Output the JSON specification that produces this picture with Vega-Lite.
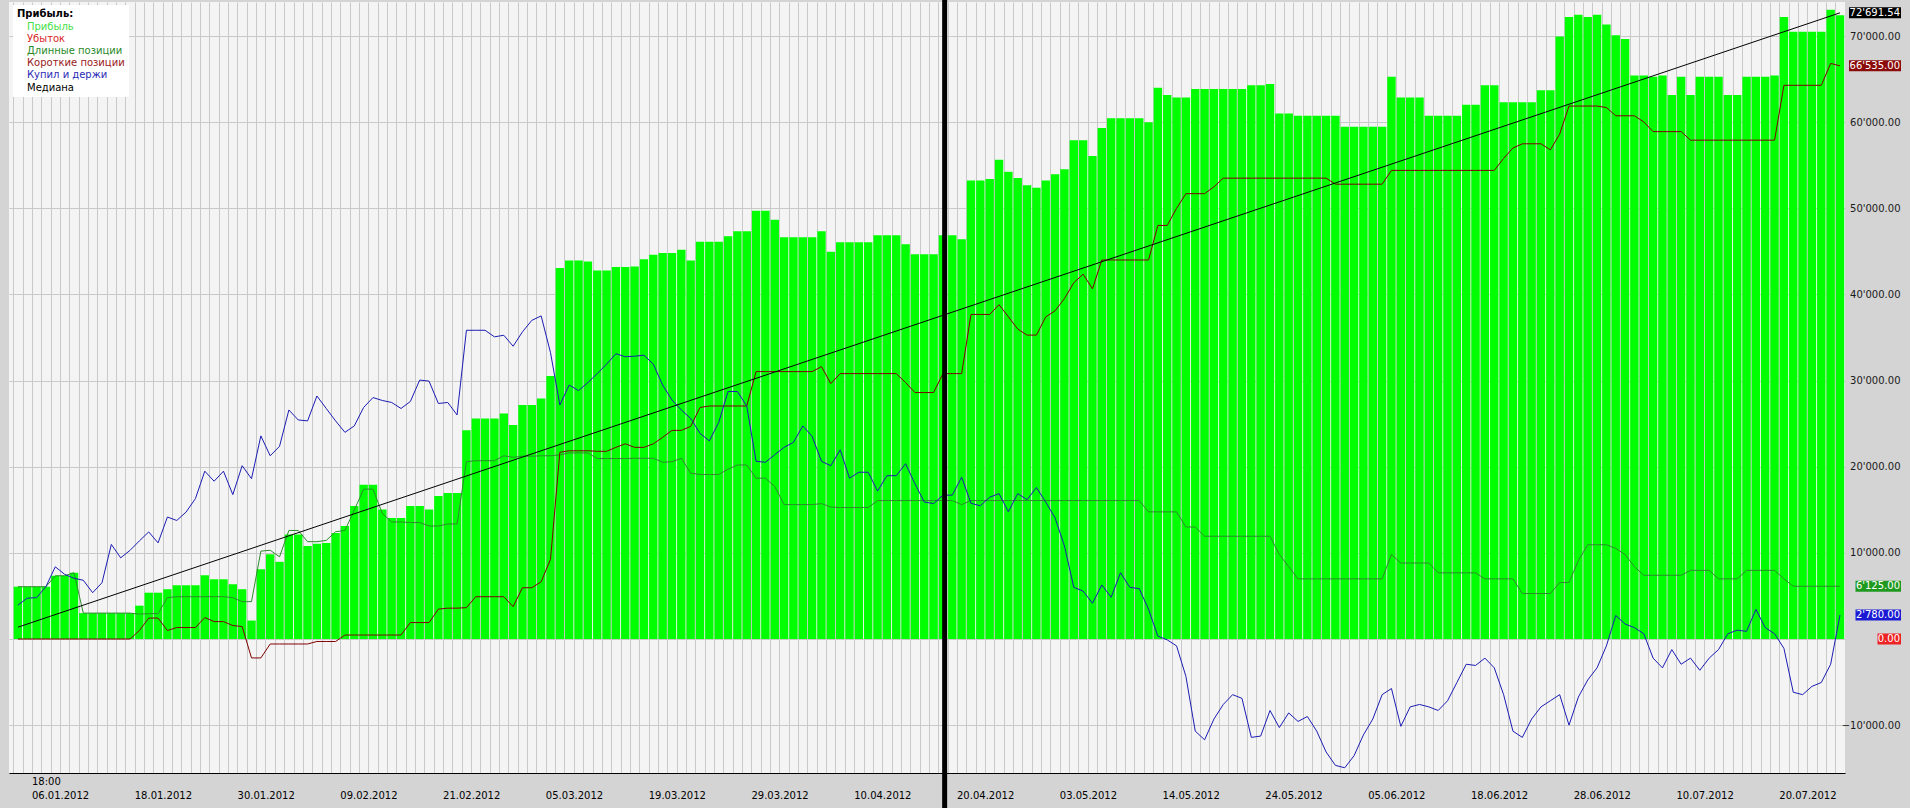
{
  "$schema": "https://vega.github.io/schema/vega-lite/v6.json",
  "width": 1836,
  "height": 771,
  "autosize": {"type": "none"},
  "padding": {"left": 9, "top": 2, "right": 65, "bottom": 35},
  "background": "#d4d4d4",
  "config": {
    "view": {"fill": "#f4f4f4", "stroke": null},
    "font": "DejaVu Sans",
    "locale": {"number": {"decimal": ".", "thousands": "'", "grouping": [3], "currency": ["", ""]}}
  },
  "datasets": {
    "bars": [
      {"i":0,"p":6070,"l":6070,"s":0,"b":3930},{"i":1,"p":6070,"l":6070,"s":0,"b":4740},{"i":2,"p":6070,"l":6070,"s":0,"b":4800},{"i":3,"p":6070,"l":6070,"s":0,"b":6070},
      {"i":4,"p":7340,"l":7340,"s":0,"b":8380},{"i":5,"p":7340,"l":7340,"s":0,"b":7510},{"i":6,"p":7690,"l":7690,"s":0,"b":7050},{"i":7,"p":3006,"l":3006,"s":0,"b":6820},
      {"i":8,"p":3006,"l":3006,"s":0,"b":5375},{"i":9,"p":3006,"l":3006,"s":0,"b":6530},{"i":10,"p":3006,"l":3006,"s":0,"b":10980},{"i":11,"p":3006,"l":3006,"s":0,"b":9420},
      {"i":12,"p":3006,"l":3006,"s":0,"b":10290},{"i":13,"p":3870,"l":2890,"s":980,"b":11390},{"i":14,"p":5375,"l":2945,"s":2430,"b":12430},{"i":15,"p":5375,"l":2945,"s":2430,"b":11160},
      {"i":16,"p":5780,"l":4800,"s":980,"b":14160},{"i":17,"p":6240,"l":4910,"s":1330,"b":13760},{"i":18,"p":6240,"l":4910,"s":1330,"b":14740},{"i":19,"p":6240,"l":4910,"s":1330,"b":16300},
      {"i":20,"p":7400,"l":4910,"s":2490,"b":19480},{"i":21,"p":6936,"l":4916,"s":2020,"b":18320},{"i":22,"p":6936,"l":4916,"s":2020,"b":19480},{"i":23,"p":6358,"l":4800,"s":1560,"b":16760},
      {"i":24,"p":5780,"l":4330,"s":1450,"b":20120},{"i":25,"p":2140,"l":4340,"s":-2200,"b":18610},{"i":26,"p":8090,"l":10200,"s":-2200,"b":23580},{"i":27,"p":9830,"l":10300,"s":-580,"b":21270},
      {"i":28,"p":8960,"l":9540,"s":-580,"b":22370},{"i":29,"p":12140,"l":12600,"s":-580,"b":26590},{"i":30,"p":12140,"l":12600,"s":-580,"b":25430},{"i":31,"p":10810,"l":11300,"s":-580,"b":25320},
      {"i":32,"p":11070,"l":11300,"s":-290,"b":28210},{"i":33,"p":11155,"l":11445,"s":-290,"b":26760},{"i":34,"p":12310,"l":12450,"s":-290,"b":25320},{"i":35,"p":13120,"l":12600,"s":460,"b":23990},
      {"i":36,"p":15430,"l":14970,"s":460,"b":24740},{"i":37,"p":17920,"l":17400,"s":460,"b":26880},{"i":38,"p":17920,"l":17400,"s":460,"b":28030},{"i":39,"p":15030,"l":14570,"s":460,"b":27690},
      {"i":40,"p":14045,"l":13585,"s":460,"b":27460},{"i":41,"p":14045,"l":13585,"s":460,"b":26760},{"i":42,"p":15430,"l":13520,"s":1910,"b":27570},{"i":43,"p":15430,"l":13520,"s":1910,"b":30060},
      {"i":44,"p":15030,"l":13120,"s":1910,"b":29940},{"i":45,"p":16590,"l":13120,"s":3470,"b":27340},{"i":46,"p":16935,"l":13355,"s":3580,"b":27460},{"i":47,"p":16935,"l":13355,"s":3580,"b":26010},
      {"i":48,"p":24220,"l":20580,"s":3640,"b":35840},{"i":49,"p":25610,"l":20700,"s":4910,"b":35840},{"i":50,"p":25610,"l":20700,"s":4910,"b":35840},{"i":51,"p":25610,"l":20700,"s":4910,"b":35080},
      {"i":52,"p":26180,"l":21270,"s":4910,"b":35260},{"i":53,"p":24850,"l":21090,"s":3760,"b":33990},{"i":54,"p":27170,"l":21220,"s":5950,"b":35660},{"i":55,"p":27170,"l":21220,"s":5950,"b":36990},
      {"i":56,"p":27920,"l":21270,"s":6650,"b":37510},{"i":57,"p":30520,"l":21270,"s":9250,"b":33240},{"i":58,"p":43060,"l":21380,"s":21680,"b":27170},{"i":59,"p":43930,"l":21600,"s":21850,"b":29480},
      {"i":60,"p":43930,"l":21600,"s":21850,"b":28840},{"i":61,"p":43810,"l":21600,"s":21850,"b":29770},{"i":62,"p":42770,"l":20950,"s":21790,"b":30810},{"i":63,"p":42770,"l":20950,"s":21790,"b":31910},
      {"i":64,"p":43180,"l":20950,"s":22250,"b":33120},{"i":65,"p":43180,"l":20950,"s":22660,"b":32770},{"i":66,"p":43230,"l":20980,"s":22250,"b":32830},{"i":67,"p":44100,"l":20980,"s":22250,"b":32950},
      {"i":68,"p":44620,"l":20980,"s":22660,"b":31910},{"i":69,"p":44800,"l":20520,"s":23410,"b":29480},{"i":70,"p":44800,"l":20580,"s":24220,"b":27740},{"i":71,"p":45200,"l":20980,"s":24220,"b":26590},
      {"i":72,"p":43930,"l":19250,"s":24680,"b":25610},{"i":73,"p":46120,"l":19100,"s":26880,"b":23870},{"i":74,"p":46120,"l":19100,"s":27050,"b":23000},{"i":75,"p":46120,"l":19100,"s":27050,"b":25140},
      {"i":76,"p":46760,"l":19710,"s":27050,"b":28730},{"i":77,"p":47340,"l":20200,"s":27050,"b":28730},{"i":78,"p":47340,"l":20200,"s":27050,"b":27050},{"i":79,"p":49710,"l":18670,"s":31040,"b":20630},
      {"i":80,"p":49710,"l":18670,"s":31040,"b":20520},{"i":81,"p":48670,"l":17700,"s":31040,"b":21390},{"i":82,"p":46640,"l":15600,"s":31040,"b":22250},{"i":83,"p":46640,"l":15600,"s":31040,"b":22830},
      {"i":84,"p":46640,"l":15600,"s":31040,"b":24740},{"i":85,"p":46640,"l":15600,"s":31040,"b":23520},{"i":86,"p":47340,"l":15720,"s":31620,"b":20630},{"i":87,"p":44970,"l":15320,"s":29650,"b":20110},
      {"i":88,"p":46070,"l":15260,"s":30810,"b":21960},{"i":89,"p":46070,"l":15260,"s":30810,"b":18670},{"i":90,"p":46070,"l":15260,"s":30810,"b":19360},{"i":91,"p":46070,"l":15260,"s":30810,"b":19360},
      {"i":92,"p":46880,"l":16070,"s":30810,"b":17170},{"i":93,"p":46880,"l":16070,"s":30810,"b":18960},{"i":94,"p":46880,"l":16070,"s":30810,"b":18960},{"i":95,"p":45840,"l":16070,"s":29770,"b":20350},
      {"i":96,"p":44680,"l":16070,"s":28610,"b":18030},{"i":97,"p":44680,"l":16070,"s":28610,"b":15900},{"i":98,"p":44680,"l":16070,"s":28610,"b":15720},{"i":99,"p":46880,"l":16070,"s":30810,"b":16700},
      {"i":100,"p":46880,"l":16070,"s":30810,"b":16700},{"i":101,"p":46410,"l":15600,"s":30810,"b":18790},{"i":102,"p":53240,"l":16070,"s":37680,"b":15750},{"i":103,"p":53240,"l":16070,"s":37680,"b":15470},
      {"i":104,"p":53400,"l":16070,"s":37680,"b":16460},{"i":105,"p":55650,"l":16070,"s":38810,"b":16880},{"i":106,"p":54230,"l":16070,"s":37400,"b":14770},{"i":107,"p":53520,"l":16070,"s":35980,"b":16880},
      {"i":108,"p":52680,"l":16070,"s":35280,"b":16170},{"i":109,"p":52400,"l":16070,"s":35280,"b":17590},{"i":110,"p":53240,"l":16070,"s":37400,"b":15890},{"i":111,"p":53950,"l":16070,"s":38100,"b":14050},
      {"i":112,"p":54520,"l":16070,"s":39520,"b":10800},{"i":113,"p":57910,"l":16070,"s":41360,"b":6000},{"i":114,"p":57910,"l":16070,"s":42350,"b":5560},{"i":115,"p":56070,"l":16070,"s":40650,"b":4150},
      {"i":116,"p":59330,"l":16070,"s":44000,"b":6270},{"i":117,"p":60460,"l":16070,"s":44000,"b":4850},{"i":118,"p":60460,"l":16070,"s":44000,"b":7690},{"i":119,"p":60460,"l":16070,"s":44000,"b":5990},
      {"i":120,"p":60460,"l":16070,"s":44000,"b":5850},{"i":121,"p":60000,"l":14760,"s":44000,"b":3440},{"i":122,"p":64000,"l":14760,"s":48010,"b":330},{"i":123,"p":63150,"l":14760,"s":48010,"b":-100},
      {"i":124,"p":62860,"l":14760,"s":50000,"b":-800},{"i":125,"p":62860,"l":13000,"s":51700,"b":-4340},{"i":126,"p":63850,"l":13000,"s":51700,"b":-10700},{"i":127,"p":63850,"l":11930,"s":51700,"b":-11700},
      {"i":128,"p":63850,"l":11930,"s":52500,"b":-9290},{"i":129,"p":63850,"l":11930,"s":53500,"b":-7600},{"i":130,"p":63850,"l":11930,"s":53500,"b":-6460},{"i":131,"p":63850,"l":11930,"s":53500,"b":-6890},
      {"i":132,"p":64280,"l":11930,"s":53500,"b":-11420},{"i":133,"p":64280,"l":11930,"s":53500,"b":-11270},{"i":134,"p":64420,"l":11930,"s":53500,"b":-8300},{"i":135,"p":61020,"l":9810,"s":53500,"b":-10280},
      {"i":136,"p":61020,"l":8400,"s":53500,"b":-8580},{"i":137,"p":60740,"l":6980,"s":53500,"b":-9570},{"i":138,"p":60740,"l":6980,"s":53500,"b":-9000},{"i":139,"p":60740,"l":6980,"s":53500,"b":-10700},
      {"i":140,"p":60740,"l":6980,"s":53500,"b":-13110},{"i":141,"p":60740,"l":6980,"s":52800,"b":-14670},{"i":142,"p":59470,"l":6980,"s":52800,"b":-14950},{"i":143,"p":59470,"l":6980,"s":52800,"b":-13540},
      {"i":144,"p":59470,"l":6980,"s":52800,"b":-11130},{"i":145,"p":59470,"l":6980,"s":52800,"b":-9290},{"i":146,"p":59470,"l":6980,"s":52800,"b":-6460},{"i":147,"p":65270,"l":9810,"s":54400,"b":-5750},
      {"i":148,"p":62860,"l":8820,"s":54400,"b":-10140},{"i":149,"p":62860,"l":8820,"s":54400,"b":-7880},{"i":150,"p":62860,"l":8820,"s":54400,"b":-7600},{"i":151,"p":60740,"l":8820,"s":54400,"b":-7880},
      {"i":152,"p":60740,"l":7680,"s":54400,"b":-8300},{"i":153,"p":60740,"l":7680,"s":54400,"b":-7170},{"i":154,"p":60740,"l":7680,"s":54400,"b":-5050},{"i":155,"p":62010,"l":7680,"s":54400,"b":-2930},
      {"i":156,"p":62010,"l":7680,"s":54400,"b":-3070},{"i":157,"p":64280,"l":6980,"s":54400,"b":-2220},{"i":158,"p":64280,"l":6980,"s":54400,"b":-3350},{"i":159,"p":62300,"l":6980,"s":55790,"b":-6460},
      {"i":160,"p":62300,"l":6980,"s":57000,"b":-10700},{"i":161,"p":62300,"l":5280,"s":57490,"b":-11420},{"i":162,"p":62300,"l":5280,"s":57490,"b":-9290},{"i":163,"p":63710,"l":5280,"s":57490,"b":-7880},
      {"i":164,"p":63710,"l":5280,"s":56780,"b":-7170},{"i":165,"p":69940,"l":6560,"s":58620,"b":-6460},{"i":166,"p":72200,"l":6560,"s":61870,"b":-10000},{"i":167,"p":72480,"l":9100,"s":61870,"b":-6740},
      {"i":168,"p":72200,"l":10940,"s":61870,"b":-4760},{"i":169,"p":72480,"l":10940,"s":61870,"b":-3350},{"i":170,"p":71350,"l":10940,"s":61700,"b":-800},{"i":171,"p":70080,"l":10520,"s":60740,"b":2730},
      {"i":172,"p":69650,"l":9810,"s":60740,"b":1740},{"i":173,"p":65410,"l":8400,"s":60740,"b":1320},{"i":174,"p":65410,"l":7400,"s":60030,"b":610},{"i":175,"p":65270,"l":7400,"s":58900,"b":-2220},
      {"i":176,"p":65410,"l":7400,"s":58900,"b":-3350},{"i":177,"p":63150,"l":7400,"s":58900,"b":-1230},{"i":178,"p":65270,"l":7400,"s":58900,"b":-2930},{"i":179,"p":63150,"l":7970,"s":57910,"b":-2220},
      {"i":180,"p":65270,"l":7970,"s":57910,"b":-3630},{"i":181,"p":65270,"l":7970,"s":57910,"b":-2220},{"i":182,"p":65270,"l":6980,"s":57910,"b":-1230},{"i":183,"p":63150,"l":6980,"s":57910,"b":610},
      {"i":184,"p":63150,"l":6980,"s":57910,"b":1030},{"i":185,"p":65270,"l":7970,"s":57910,"b":890},{"i":186,"p":65270,"l":7970,"s":57910,"b":3440},{"i":187,"p":65270,"l":7970,"s":57910,"b":1320},
      {"i":188,"p":65410,"l":7970,"s":57910,"b":610},{"i":189,"p":72200,"l":6980,"s":64280,"b":-1090},{"i":190,"p":70500,"l":6125,"s":64280,"b":-6180},{"i":191,"p":70500,"l":6125,"s":64280,"b":-6460},
      {"i":192,"p":70500,"l":6125,"s":64280,"b":-5500},{"i":193,"p":70500,"l":6125,"s":64280,"b":-5050},{"i":194,"p":73050,"l":6125,"s":66820,"b":-2930},{"i":195,"p":72400,"l":6125,"s":66535,"b":2780}
    ],
    "median": [{"i": 0, "v": 1370}, {"i": 195, "v": 72691.54}],
    "separator": [{"i": 99}],
    "tags": [
      {"i": 195, "series": "Медиана", "v": 72691.54},
      {"i": 195, "series": "Короткие позиции", "v": 66535},
      {"i": 195, "series": "Длинные позиции", "v": 6125},
      {"i": 195, "series": "Купил и держи", "v": 2780},
      {"i": 195, "series": "Убыток", "v": 0}
    ]
  },
  "layer": [
    {
      "data": {"name": "bars"},
      "mark": {"type": "bar"},
      "encoding": {
        "x": {
          "field": "i", "type": "ordinal",
          "scale": {"type": "band", "paddingInner": 0.1, "paddingOuter": 0.294, "align": 0.855},
          "axis": {
            "orient": "bottom", "bandPosition": 0, "grid": true, "gridColor": "#c9c9c9", "gridWidth": 1,
            "ticks": false, "tickSize": 0, "domain": true, "domainColor": "#000000", "domainWidth": 1,
            "labelAngle": 0, "labelAlign": "left", "labelBaseline": "top", "labelPadding": 3,
            "labelOffset": 4.7, "labelOverlap": false, "labelBound": false, "labelFlush": false,
            "labelFont": "DejaVu Sans", "labelFontSize": 10, "labelColor": "#000000", "labelLineHeight": 14,
            "title": null,
            "labelExpr": "datum.value % 11 == 1 ? [datum.value == 1 ? '18:00' : '', ['06.01.2012', '18.01.2012', '30.01.2012', '09.02.2012', '21.02.2012', '05.03.2012', '19.03.2012', '29.03.2012', '10.04.2012', '20.04.2012', '03.05.2012', '14.05.2012', '24.05.2012', '05.06.2012', '18.06.2012', '28.06.2012', '10.07.2012', '20.07.2012'][(datum.value - 1) / 11]] : ''"
          }
        },
        "y": {
          "field": "p", "type": "quantitative",
          "scale": {"domain": [-15556, 73950], "nice": false, "zero": false},
          "axis": {
            "orient": "right", "values": [-10000, 0, 10000, 20000, 30000, 40000, 50000, 60000, 70000],
            "format": ",.2f", "labelFont": "DejaVu Sans", "labelFontSize": 10, "labelColor": "#1a1a1a",
            "labelAlign": "right", "labelBaseline": "middle", "labelPadding": 55, "ticks": false, "tickSize": 0,
            "domain": false, "grid": true, "gridColor": "#c9c9c9", "gridWidth": 1, "title": null
          }
        },
        "color": {
          "datum": "Прибыль",
          "scale": {
            "domain": ["Прибыль", "Убыток", "Длинные позиции", "Короткие позиции", "Купил и держи", "Медиана"],
            "range": ["#00ff00", "#ff0000", "#2e8b2e", "#800000", "#1c1cb4", "#000000"]
          },
          "legend": {
            "title": "Прибыль:", "orient": "none", "legendX": 4, "legendY": 3, "direction": "vertical",
            "padding": 4, "fillColor": "#ffffff", "strokeColor": null,
            "titleFont": "DejaVu Sans", "titleFontSize": 10, "titleFontWeight": "bold", "titleColor": "#000000", "titlePadding": 2.5,
            "labelFont": "DejaVu Sans", "labelFontSize": 10, "labelOffset": 0, "rowPadding": 2.2,
            "symbolSize": 0, "symbolOpacity": 0, "symbolStrokeWidth": 0, "symbolType": "square",
            "labelColor": {"expr": "datum.value === 'Прибыль' ? '#48e048' : datum.value === 'Убыток' ? '#d82828' : datum.value === 'Длинные позиции' ? '#2a8a2a' : datum.value === 'Короткие позиции' ? '#9a2020' : datum.value === 'Купил и держи' ? '#2a2ab8' : '#000000'"}
          }
        }
      }
    },
    {
      "data": {"name": "bars"},
      "mark": {"type": "line", "strokeWidth": 1},
      "encoding": {
        "x": {"field": "i", "type": "ordinal"},
        "y": {"field": "l", "type": "quantitative"},
        "color": {"datum": "Длинные позиции"}
      }
    },
    {
      "data": {"name": "bars"},
      "mark": {"type": "line", "strokeWidth": 1},
      "encoding": {
        "x": {"field": "i", "type": "ordinal"},
        "y": {"field": "s", "type": "quantitative"},
        "color": {"datum": "Короткие позиции"}
      }
    },
    {
      "data": {"name": "bars"},
      "mark": {"type": "line", "strokeWidth": 1},
      "encoding": {
        "x": {"field": "i", "type": "ordinal"},
        "y": {"field": "b", "type": "quantitative"},
        "color": {"datum": "Купил и держи"}
      }
    },
    {
      "data": {"name": "median"},
      "mark": {"type": "line", "strokeWidth": 1},
      "encoding": {
        "x": {"field": "i", "type": "ordinal"},
        "y": {"field": "v", "type": "quantitative"},
        "color": {"datum": "Медиана"}
      }
    },
    {
      "data": {"name": "separator"},
      "mark": {"type": "rule", "strokeWidth": 5, "color": "#000000", "clip": false},
      "encoding": {
        "x": {"field": "i", "type": "ordinal", "bandPosition": 0.7},
        "y": {"datum": 74200},
        "y2": {"datum": -19700}
      }
    },
    {
      "data": {"name": "tags"},
      "mark": {"type": "point", "filled": true, "size": 4, "opacity": 1, "strokeWidth": 0, "clip": false},
      "encoding": {
        "x": {"field": "i", "type": "ordinal"},
        "y": {"field": "v", "type": "quantitative"},
        "shape": {
          "field": "series",
          "scale": {
            "domain": ["Медиана", "Короткие позиции", "Длинные позиции", "Купил и держи", "Убыток"],
            "range": ["M9,-5.5H61V5.5H9Z", "M9,-5.5H61V5.5H9Z", "M15.5,-5.5H61V5.5H15.5Z", "M15.5,-5.5H61V5.5H15.5Z", "M37.5,-5.5H61V5.5H37.5Z"]
          },
          "legend": null
        },
        "fill": {
          "field": "series",
          "scale": {
            "domain": ["Медиана", "Короткие позиции", "Длинные позиции", "Купил и держи", "Убыток"],
            "range": ["#000000", "#8b0a0a", "#1f9a1f", "#1a1ad4", "#ee2222"]
          },
          "legend": null
        }
      }
    },
    {
      "data": {"name": "tags"},
      "mark": {"type": "text", "align": "right", "baseline": "middle", "dx": 60, "fontSize": 10, "font": "DejaVu Sans", "color": "#ffffff", "clip": false},
      "encoding": {
        "x": {"field": "i", "type": "ordinal"},
        "y": {"field": "v", "type": "quantitative"},
        "text": {"field": "v", "type": "quantitative", "format": ",.2f"}
      }
    }
  ]
}
